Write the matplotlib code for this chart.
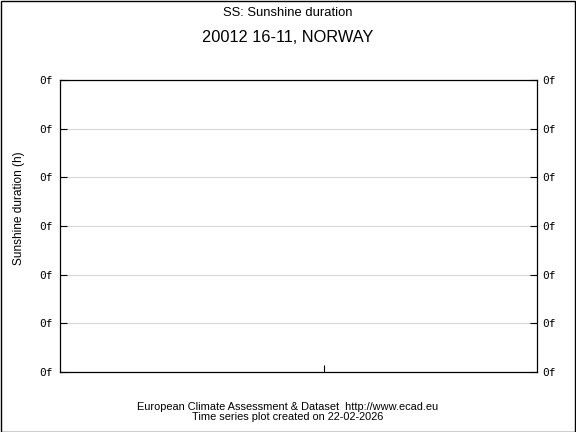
import matplotlib
matplotlib.use('Agg')
import matplotlib.pyplot as plt
import matplotlib.transforms as mtrans
from matplotlib.patches import Rectangle

TITLE = "SS: Sunshine duration"
SUBTITLE = "20012 16-11, NORWAY"
YLABEL = "Sunshine duration (h)"
FOOTER = "European Climate Assessment & Dataset  http://www.ecad.eu\nTime series plot created on 22-02-2026"

# no data in this series, only the empty frame
y_ticks = [0, 1, 2, 3, 4, 5, 6]
y_tick_labels = ["0f"] * 7
x_ticks = [0.554]

plt.rcParams['font.family'] = ['Liberation Sans', 'DejaVu Sans']

fig = plt.figure(figsize=(5.76, 4.32), dpi=100)
ax = fig.add_axes([60 / 576, 1 - 372 / 432, 477 / 576, 292 / 432])

ax.set_xlim(0, 1)
ax.set_ylim(0, 6)
ax.set_yticks(y_ticks)
ax.set_yticklabels(y_tick_labels, family='DejaVu Sans Mono', fontsize=8)
ax.set_xticks(x_ticks)
ax.set_xticklabels([])
ax.grid(axis='y', color='#d8d8d8', linewidth=0.8)
ax.set_axisbelow(True)

ax.tick_params(axis='y', direction='in', length=5, width=0.8, left=True, right=True,
               labelleft=True, labelright=True, pad=5.5)
ax.tick_params(axis='x', direction='in', length=5, width=0.8)
for sp in ax.spines.values():
    sp.set_linewidth(0.9)
    sp.set_color('black')

# right labels sit a bit closer to the axis
offset = mtrans.ScaledTranslation(-1.5 / 72, 0, fig.dpi_scale_trans)
for t in ax.yaxis.get_major_ticks():
    t.label2.set_transform(t.label2.get_transform() + offset)

fig.text(19 / 576, 1 - 208 / 432, YLABEL, rotation=90, ha='center', va='center', fontsize=8.6)

fig.text(0.5, 1 - 13 / 432, TITLE, ha='center', va='center', fontsize=9.4)
fig.text(0.5, 1 - 37 / 432, SUBTITLE, ha='center', va='center', fontsize=11.8)
fig.text(0.5, 1 - 412 / 432, FOOTER, ha='center', va='center', fontsize=7.9, linespacing=1.05)

fig.patches.append(Rectangle((0.5 / 576, 0.5 / 432), 1 - 1.5 / 576, 1 - 1.5 / 432,
                             transform=fig.transFigure, fill=False,
                             edgecolor='black', linewidth=1.0))

fig.savefig('out.png', dpi=100)
